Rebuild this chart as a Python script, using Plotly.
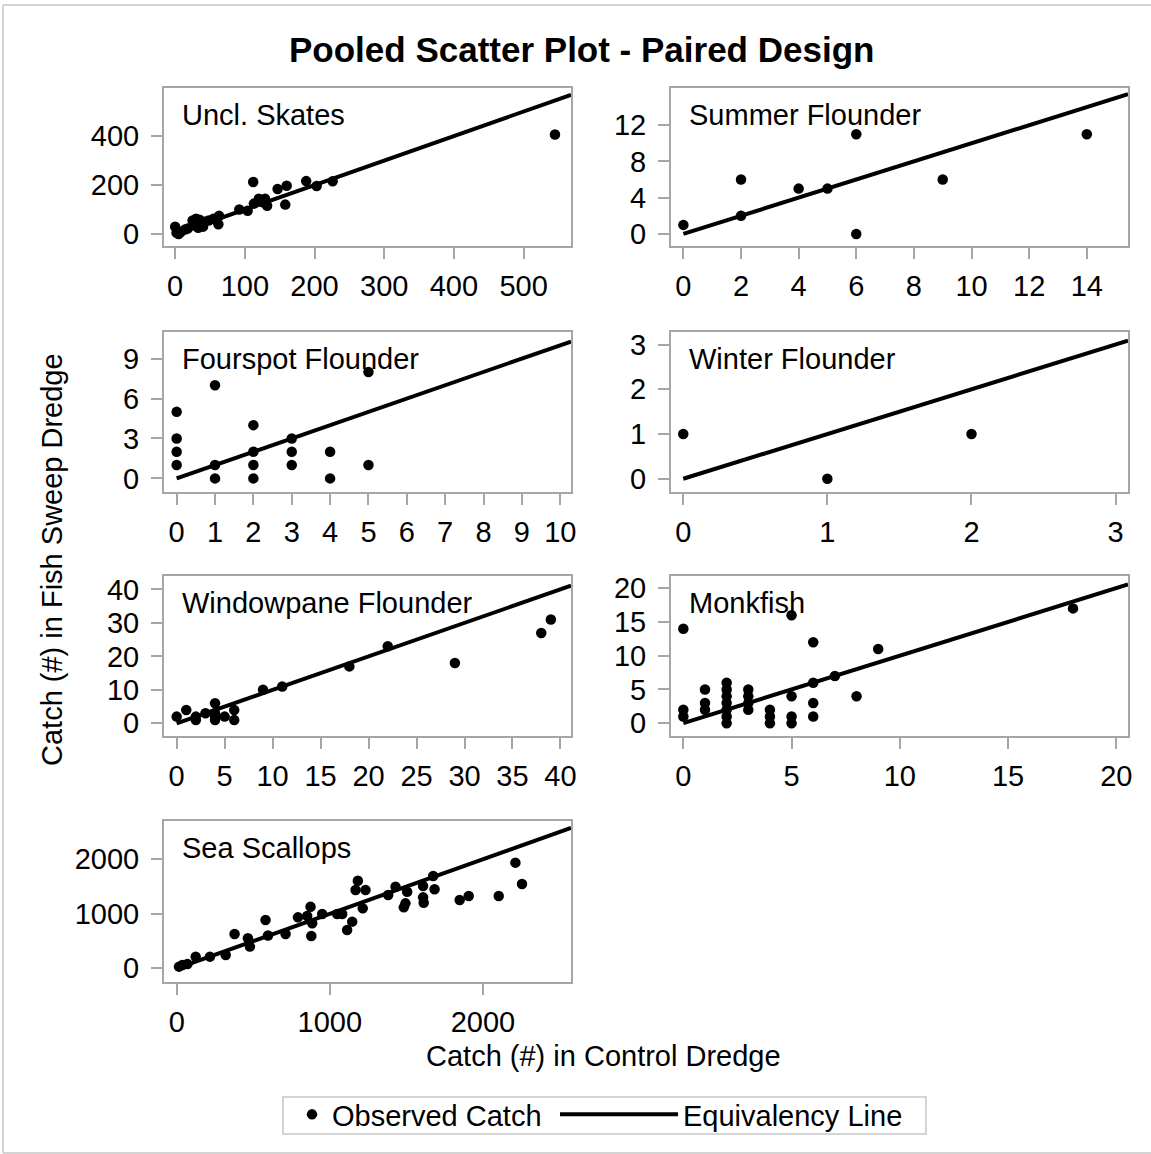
import plotly.graph_objects as go

# ---- data: (control dredge catch, fish sweep dredge catch) per species ----
species = ["Uncl. Skates", "Summer Flounder", "Fourspot Flounder", "Winter Flounder",
           "Windowpane Flounder", "Monkfish", "Sea Scallops"]

skates_ctrl = [0, 2, 5, 8, 14, 18, 25, 28, 30, 33, 35, 36, 40, 42, 48, 55, 62, 63,
               92, 104, 112, 113, 120, 125, 129, 132, 147, 158, 160, 188, 203, 226, 545]
skates_fish = [30, 5, 0, 8, 18, 22, 55, 35, 62, 25, 58, 40, 30, 50, 55, 62, 40, 74,
               100, 95, 212, 124, 144, 130, 144, 115, 184, 120, 197, 216, 196, 215, 406]

summer_ctrl = [0, 2, 2, 4, 5, 6, 6, 9, 14]
summer_fish = [1, 6, 2, 5, 5, 11, 0, 6, 11]

fourspot_ctrl = [0, 0, 0, 0, 1, 1, 1, 2, 2, 2, 2, 3, 3, 3, 4, 4, 5, 5]
fourspot_fish = [5, 3, 2, 1, 7, 1, 0, 4, 2, 1, 0, 3, 2, 1, 2, 0, 8, 1]

winter_ctrl = [0, 1, 2]
winter_fish = [1, 0, 1]

windowpane_ctrl = [0, 1, 2, 2, 3, 4, 4, 4, 4, 5, 6, 6, 9, 11, 18, 22, 29, 38, 39]
windowpane_fish = [2, 4, 2, 1, 3, 6, 3, 1, 2, 2, 4, 1, 10, 11, 17, 23, 18, 27, 31]

monk_ctrl = [0, 0, 0, 1, 1, 1, 2, 2, 2, 2, 2, 2, 2, 3, 3, 3, 3, 4, 4, 4,
             5, 5, 5, 5, 6, 6, 6, 6, 7, 8, 9, 18]
monk_fish = [14, 2, 1, 5, 3, 2, 6, 5, 4, 3, 2, 1, 0, 5, 4, 3, 2, 2, 1, 0,
             16, 4, 1, 0, 12, 6, 3, 1, 7, 4, 11, 17]

scallop_ctrl = [15, 37, 70, 124, 217, 320, 378, 465, 478, 580, 596, 711, 792, 852,
                874, 885, 879, 950, 1048, 1081, 1113, 1146, 1183, 1168, 1233, 1215,
                1381, 1429, 1505, 1494, 1483, 1609, 1609, 1613, 1675, 1684, 1848,
                1907, 2103, 2212, 2255]
scallop_fish = [30, 61, 79, 214, 214, 245, 630, 550, 398, 887, 602, 630, 935, 960,
                1130, 825, 593, 996, 996, 996, 703, 856, 1607, 1437, 1437, 1100,
                1345, 1498, 1406, 1192, 1118, 1510, 1302, 1204, 1694, 1449, 1253,
                1327, 1327, 1939, 1547]

ctrl = [skates_ctrl, summer_ctrl, fourspot_ctrl, winter_ctrl,
        windowpane_ctrl, monk_ctrl, scallop_ctrl]
fish = [skates_fish, summer_fish, fourspot_fish, winter_fish,
        windowpane_fish, monk_fish, scallop_fish]

# tick values shown on each panel's axes
x_ticks = [[0, 100, 200, 300, 400, 500],
           [0, 2, 4, 6, 8, 10, 12, 14],
           [0, 1, 2, 3, 4, 5, 6, 7, 8, 9, 10],
           [0, 1, 2, 3],
           [0, 5, 10, 15, 20, 25, 30, 35, 40],
           [0, 5, 10, 15, 20],
           [0, 1000, 2000]]
y_ticks = [[0, 200, 400],
           [0, 4, 8, 12],
           [0, 3, 6, 9],
           [0, 1, 2, 3],
           [0, 10, 20, 30, 40],
           [0, 5, 10, 15, 20],
           [0, 1000, 2000]]

# axis ranges per panel
x_ranges = [[-16, 568], [-0.43, 15.43], [-0.33, 10.28], [-0.085, 3.086],
            [-1.32, 41.1], [-0.57, 20.54], [-83, 2575]]
y_ranges = [[-49, 596], [-1.33, 16.1], [-1.0, 11.0], [-0.29, 3.28],
            [-3.7, 44], [-1.85, 21.8], [-246, 2703]]

# ---- layout geometry (pixels) ----
W, H = 1151, 1154
col_px = [(164, 571), (671, 1128)]
row_px = [(88, 246), (332, 491.7), (576, 735.7), (821, 981.7)]

FONT = "Liberation Sans, Arial, sans-serif"
FS = 29
FRAME = "#a6a6a6"
BORDER = "#d4d4d4"

fig = go.Figure()
layout = dict(
    width=W, height=H,
    margin=dict(l=0, r=0, t=0, b=0, autoexpand=False),
    paper_bgcolor="white", plot_bgcolor="white",
    font=dict(family=FONT, size=FS, color="black"),
    showlegend=True,
)

annotations = []
for i, name in enumerate(species):
    r, c = divmod(i, 2)
    x0, x1 = col_px[c]
    y0, y1 = row_px[r]
    xa = "xaxis" if i == 0 else f"xaxis{i + 1}"
    ya = "yaxis" if i == 0 else f"yaxis{i + 1}"
    xref = "x" if i == 0 else f"x{i + 1}"
    yref = "y" if i == 0 else f"y{i + 1}"

    common = dict(showline=True, mirror=True, linecolor=FRAME, linewidth=2,
                  ticks="outside", ticklen=11, tickwidth=2, tickcolor=FRAME,
                  showgrid=False, zeroline=False, tickmode="array",
                  tickfont=dict(family=FONT, size=FS, color="black"))
    layout[xa] = dict(domain=[x0 / W, x1 / W], range=x_ranges[i], tickvals=x_ticks[i],
                      anchor=yref, ticklabelstandoff=2, **common)
    layout[ya] = dict(domain=[1 - y1 / H, 1 - y0 / H], range=y_ranges[i], tickvals=y_ticks[i],
                      anchor=xref, ticklabelstandoff=6, **common)

    # equivalency line y = x across the visible x range
    x_hi = x_ranges[i][1]
    fig.add_trace(go.Scatter(
        x=[0, x_hi], y=[0, x_hi], mode="lines",
        line=dict(color="black", width=4),
        name="Equivalency Line", legend="legend2", showlegend=(i == 0),
        xaxis=xref, yaxis=yref,
    ))
    fig.add_trace(go.Scatter(
        x=ctrl[i], y=fish[i], mode="markers",
        marker=dict(color="black", size=10.5),
        name="Observed Catch", legend="legend", showlegend=(i == 0),
        xaxis=xref, yaxis=yref, cliponaxis=False,
    ))

    annotations.append(dict(
        text=name, xref=f"{xref} domain", yref=f"{yref} domain",
        x=0, y=1, xanchor="left", yanchor="middle", xshift=16, yshift=-27,
        showarrow=False, font=dict(family=FONT, size=FS, color="black"),
    ))

# title and shared axis labels
annotations += [
    dict(text="<b>Pooled Scatter Plot - Paired Design</b>", xref="paper", yref="paper",
         x=581 / W, y=1 - 50 / H, xanchor="center", yanchor="middle", showarrow=False,
         font=dict(family=FONT, size=35, color="black")),
    dict(text="Catch (#) in Control Dredge", xref="paper", yref="paper",
         x=603 / W, y=1 - 1056 / H, xanchor="center", yanchor="middle", showarrow=False,
         font=dict(family=FONT, size=FS, color="black")),
    dict(text="Catch (#) in Fish Sweep Dredge", xref="paper", yref="paper",
         x=52 / W, y=1 - 560 / H, xanchor="center", yanchor="middle", showarrow=False,
         textangle=-90, font=dict(family=FONT, size=FS, color="black")),
]
layout["annotations"] = annotations

# two borderless legends (short symbol for the dots, long symbol for the line)
# sitting together inside one framed box
legend_y = 1 - 1114.5 / H
layout["legend"] = dict(
    orientation="h", x=292 / W, xanchor="left", y=legend_y, yanchor="middle",
    borderwidth=0, bgcolor="rgba(0,0,0,0)", itemwidth=30,
    font=dict(family=FONT, size=FS, color="black"),
)
layout["legend2"] = dict(
    orientation="h", x=555 / W, xanchor="left", y=legend_y, yanchor="middle",
    borderwidth=0, bgcolor="rgba(0,0,0,0)", itemwidth=118,
    font=dict(family=FONT, size=FS, color="black"),
)

line_style = dict(color=BORDER, width=2)
layout["shapes"] = [
    # page frame: top, left and bottom edges
    dict(type="line", xref="paper", yref="paper", x0=3 / W, x1=1, y0=1 - 5 / H, y1=1 - 5 / H,
         line=line_style, layer="below"),
    dict(type="line", xref="paper", yref="paper", x0=3 / W, x1=3 / W, y0=1 - 5 / H, y1=1 - 1153 / H,
         line=line_style, layer="below"),
    dict(type="line", xref="paper", yref="paper", x0=3 / W, x1=1, y0=1 - 1153 / H, y1=1 - 1153 / H,
         line=line_style, layer="below"),
    # legend box
    dict(type="rect", xref="paper", yref="paper",
         x0=283 / W, x1=926 / W, y0=1 - 1134 / H, y1=1 - 1097 / H,
         line=line_style, fillcolor="rgba(0,0,0,0)", layer="below"),
]

fig.update_layout(**layout)
fig.write_html("out.html")
